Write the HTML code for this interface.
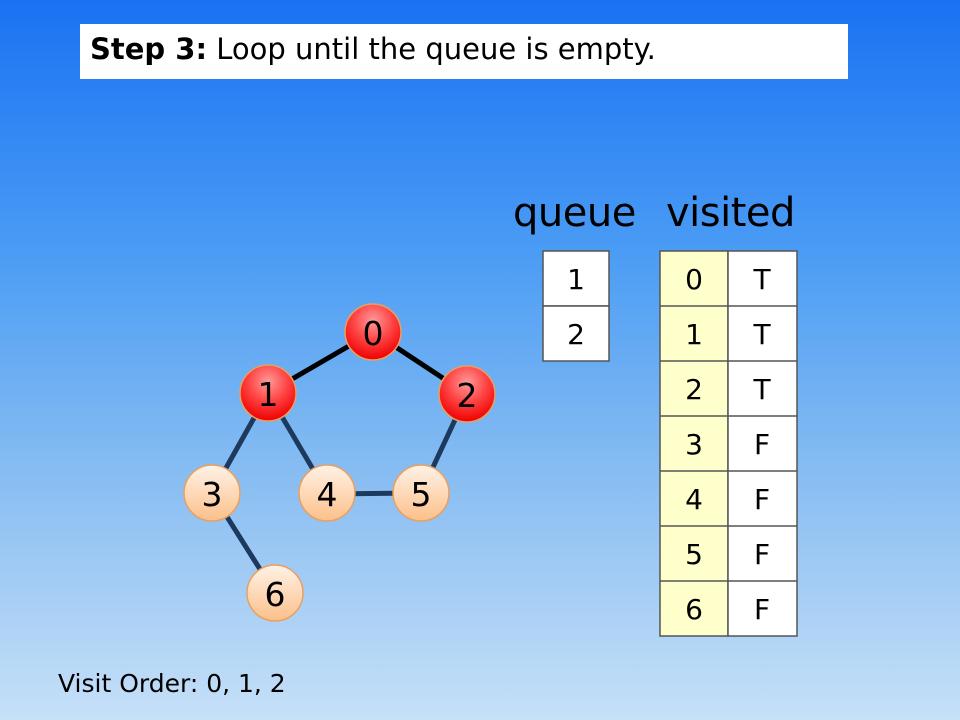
<!DOCTYPE html>
<html><head><meta charset="utf-8"><style>
body{margin:0;width:960px;height:720px;overflow:hidden;font-family:"Liberation Sans",sans-serif;}
.bg{position:absolute;left:0;top:0;width:960px;height:720px;background:linear-gradient(#1a72f2 0%,#4a9cf4 35%,#86bcf2 65%,#c6e0f8 100%);}
.t{position:absolute;font-family:"DejaVu Sans","Liberation Sans",sans-serif;}
</style></head><body><div class="bg"></div>
<div style="position:absolute;left:80px;top:24px;width:768px;height:55px;background:#fff;"></div>
<div class="t" style="left:90px;top:32px;font-size:29px;color:#000;"><b>Step 3:</b> Loop until the queue is empty.</div>
<div class="t" style="left:513px;top:190px;font-size:40px;letter-spacing:-0.5px;">queue</div>
<div class="t" style="left:666px;top:190px;font-size:40px;letter-spacing:-0.5px;">visited</div>
<svg width="960" height="720" style="position:absolute;left:0;top:0">
<defs>
<radialGradient id="r" cx="50%" cy="30%" r="70%"><stop offset="0" stop-color="#ff9a9a"/><stop offset="0.5" stop-color="#f44"/><stop offset="1" stop-color="#e00"/></radialGradient>
<linearGradient id="o" x1="0" y1="0" x2="0" y2="1"><stop offset="0" stop-color="#fff2e6"/><stop offset="1" stop-color="#fcc08a"/></linearGradient>
</defs>
<g stroke-width="5" stroke-linecap="round">
<line x1="373" y1="332" x2="268" y2="393" stroke="#000"/>
<line x1="373" y1="332" x2="467" y2="394" stroke="#000"/>
<line x1="268" y1="393" x2="212" y2="493" stroke="#1c3a5e"/>
<line x1="268" y1="393" x2="327" y2="493" stroke="#1c3a5e"/>
<line x1="467" y1="394" x2="421" y2="493" stroke="#1c3a5e"/>
<line x1="327" y1="494" x2="421" y2="493" stroke="#1c3a5e"/>
<line x1="212" y1="493" x2="275" y2="593" stroke="#1c3a5e"/>
</g>
<g stroke="#e8a060" stroke-width="1.5">
<circle cx="373" cy="332" r="28" fill="url(#r)"/><circle cx="268" cy="393" r="28" fill="url(#r)"/><circle cx="467" cy="394" r="28" fill="url(#r)"/>
<circle cx="212" cy="493" r="28" fill="url(#o)"/><circle cx="327" cy="493" r="28" fill="url(#o)"/><circle cx="421" cy="493" r="28" fill="url(#o)"/><circle cx="275" cy="593" r="28" fill="url(#o)"/>
</g>
<g font-family="DejaVu Sans,Liberation Sans,sans-serif" font-size="33" text-anchor="middle" fill="#000">
<text x="373" y="345">0</text><text x="268" y="406">1</text><text x="467" y="407">2</text>
<text x="212" y="506">3</text><text x="327" y="506">4</text><text x="421" y="506">5</text><text x="275" y="606">6</text>
</g>
<g stroke="#555" stroke-width="1.5">
<rect x="543" y="251" width="66" height="55" fill="#fff"/><rect x="543" y="306" width="66" height="55" fill="#fff"/>
<rect x="660" y="251" width="68" height="385" fill="#ffffcc"/><rect x="728" y="251" width="69" height="385" fill="#fff"/>
<line x1="660" y1="306" x2="797" y2="306"/><line x1="660" y1="361" x2="797" y2="361"/><line x1="660" y1="416" x2="797" y2="416"/><line x1="660" y1="471" x2="797" y2="471"/><line x1="660" y1="526" x2="797" y2="526"/><line x1="660" y1="581" x2="797" y2="581"/>
</g>
<g font-family="DejaVu Sans,Liberation Sans,sans-serif" font-size="28" text-anchor="middle" fill="#000">
<text x="576" y="289">1</text><text x="576" y="344">2</text>
<text x="694" y="289">0</text><text x="694" y="344">1</text><text x="694" y="399">2</text><text x="694" y="454">3</text><text x="694" y="509">4</text><text x="694" y="564">5</text><text x="694" y="619">6</text>
<text x="762" y="289">T</text><text x="762" y="344">T</text><text x="762" y="399">T</text><text x="762" y="454">F</text><text x="762" y="509">F</text><text x="762" y="564">F</text><text x="762" y="619">F</text>
</g>
</svg>
<div class="t" style="left:58px;top:669px;font-size:25px;">Visit Order: 0, 1, 2</div>
</body></html>
